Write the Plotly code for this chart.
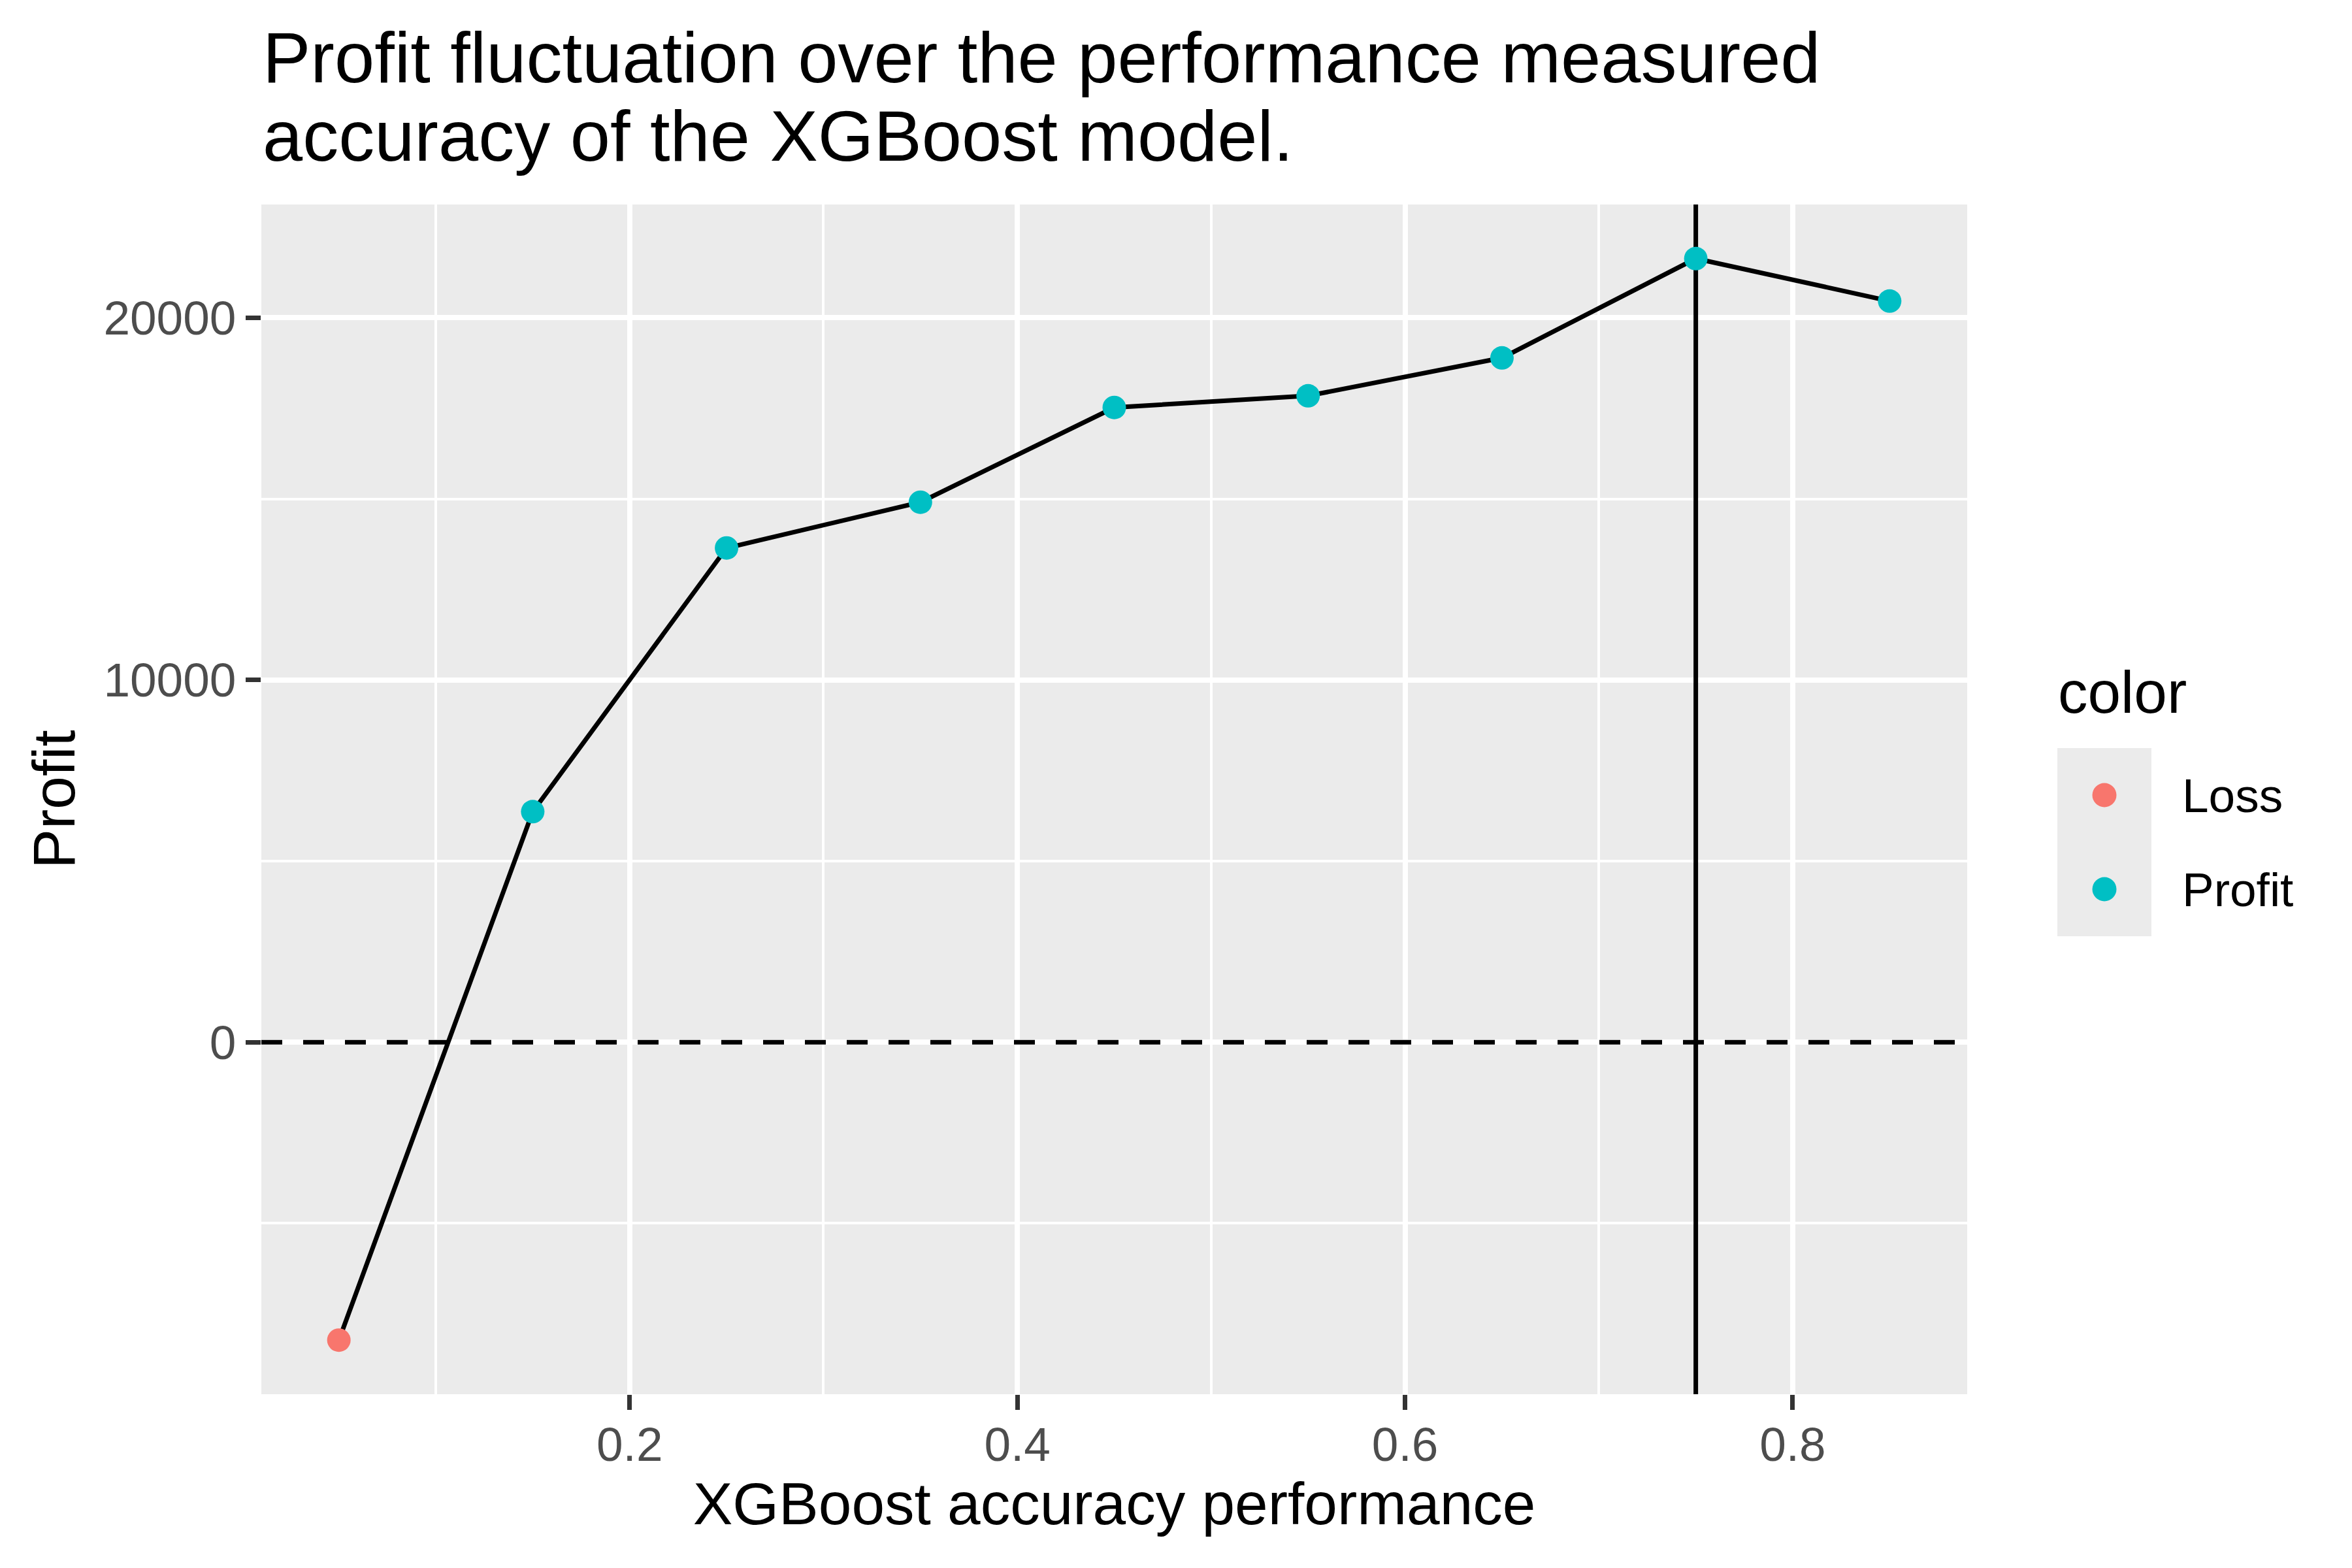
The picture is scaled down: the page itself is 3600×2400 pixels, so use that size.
import plotly.graph_objects as go

# ---- data ----
accuracy = [0.05, 0.15, 0.25, 0.35, 0.45, 0.55, 0.65, 0.75, 0.85]
profit = [-8224, 6366, 13646, 14909, 17524, 17848, 18894, 21636, 20463]
status = ["Loss" if p < 0 else "Profit" for p in profit]
legend_names = ["Loss", "Profit"]
status_colors = {"Loss": "#F8766D", "Profit": "#00BFC4"}
hline_y = 0
vline_x = 0.75
x_tick_vals = [0.2, 0.4, 0.6, 0.8]
x_tick_text = ["0.2", "0.4", "0.6", "0.8"]
y_tick_vals = [0, 10000, 20000]
y_tick_text = ["0", "10000", "20000"]

title_lines = ["Profit fluctuation over the performance measured",
               "accuracy of the XGBoost model."]
x_title = "XGBoost accuracy performance"
y_title = "Profit"
legend_title = "color"

FONT = "Liberation Sans, Arial, sans-serif"

# ---- layout geometry (pixels) ----
W, H = 3600, 2400
PL, PR, PT, PB = 400, 3011, 313, 2134


def px_x(px):
    return (px - PL) / (PR - PL)


def px_y(py):
    return (PB - py) / (PB - PT)


# expanded ranges like ggplot (5% each side)
xmin, xmax = min(accuracy), max(accuracy)
ymin, ymax = min(profit), max(profit)
xr = [xmin - 0.05 * (xmax - xmin), xmax + 0.05 * (xmax - xmin)]
yr = [ymin - 0.05 * (ymax - ymin), ymax + 0.05 * (ymax - ymin)]

fig = go.Figure()

fig.add_trace(go.Scatter(x=accuracy, y=profit, mode="lines",
                         line=dict(color="black", width=7),
                         showlegend=False, hoverinfo="skip"))

for name in legend_names:
    xs = [a for a, s in zip(accuracy, status) if s == name]
    ys = [p for p, s in zip(profit, status) if s == name]
    fig.add_trace(go.Scatter(x=xs, y=ys, mode="markers", name=name,
                             marker=dict(color=status_colors[name], size=36,
                                         line=dict(width=0)),
                             showlegend=False))

shapes = [
    dict(type="line", xref="x", x0=xr[0], x1=xr[1], yref="y", y0=hline_y, y1=hline_y,
         line=dict(color="black", width=7, dash="32px,32px"), layer="between"),
    dict(type="line", xref="x", x0=vline_x, x1=vline_x, yref="y", y0=yr[0], y1=yr[1],
         line=dict(color="black", width=7), layer="between"),
    # legend key background
    dict(type="rect", xref="paper", yref="paper",
         x0=px_x(3149), x1=px_x(3293), y0=px_y(1433), y1=px_y(1145),
         fillcolor="#EBEBEB", line=dict(width=0), layer="above"),
]

legend_y = [1217, 1361]
for name, ly in zip(legend_names, legend_y):
    shapes.append(dict(type="circle", xref="paper", yref="paper",
                       xsizemode="pixel", ysizemode="pixel",
                       xanchor=px_x(3221), yanchor=px_y(ly),
                       x0=-18.5, x1=18.5, y0=-18.5, y1=18.5,
                       fillcolor=status_colors[name], line=dict(width=0),
                       layer="above"))

annotations = [
    dict(text=title_lines[0], xref="paper", yref="paper", x=px_x(400), y=px_y(88),
         xanchor="left", yanchor="middle", showarrow=False,
         font=dict(family=FONT, size=110, color="black")),
    dict(text=title_lines[1], xref="paper", yref="paper", x=px_x(400), y=px_y(207),
         xanchor="left", yanchor="middle", showarrow=False,
         font=dict(family=FONT, size=110, color="black")),
    dict(text=legend_title, xref="paper", yref="paper", x=px_x(3148), y=px_y(1059),
         xanchor="left", yanchor="middle", showarrow=False,
         font=dict(family=FONT, size=91, color="black")),
]
for name, ly in zip(legend_names, legend_y):
    annotations.append(dict(text=name, xref="paper", yref="paper", x=px_x(3338),
                            y=px_y(ly), xanchor="left", yanchor="middle",
                            showarrow=False,
                            font=dict(family=FONT, size=73, color="black")))

axis_common = dict(
    showgrid=True, gridcolor="white", gridwidth=8,
    zeroline=False, showline=False,
    ticks="outside", ticklen=23, tickwidth=7, tickcolor="#333333",
    tickfont=dict(family=FONT, size=73, color="#4D4D4D"),
)

fig.update_layout(
    width=W, height=H,
    margin=dict(l=PL, r=W - PR, t=PT, b=H - PB, pad=0),
    paper_bgcolor="white", plot_bgcolor="#EBEBEB",
    showlegend=False,
    shapes=shapes, annotations=annotations,
    xaxis=dict(range=xr, tickmode="array", tickvals=x_tick_vals, ticktext=x_tick_text,
               ticklabelstandoff=-10,
               minor=dict(showgrid=True, gridcolor="white", gridwidth=4,
                          tickmode="linear", tick0=0.1, dtick=0.2, ticks=""),
               title=dict(text=x_title, font=dict(family=FONT, size=91, color="black"),
                          standoff=14),
               **axis_common),
    yaxis=dict(range=yr, tickmode="array", tickvals=y_tick_vals, ticktext=y_tick_text,
               minor=dict(showgrid=True, gridcolor="white", gridwidth=4,
                          tickmode="linear", tick0=5000, dtick=10000, ticks=""),
               title=dict(text=y_title, font=dict(family=FONT, size=91, color="black"),
                          standoff=13),
               **axis_common),
)

fig.write_html("out.html",
               config={"displayModeBar": False},
               post_script="document.body.style.margin='0px';"
                           "document.body.style.overflow='hidden';")
